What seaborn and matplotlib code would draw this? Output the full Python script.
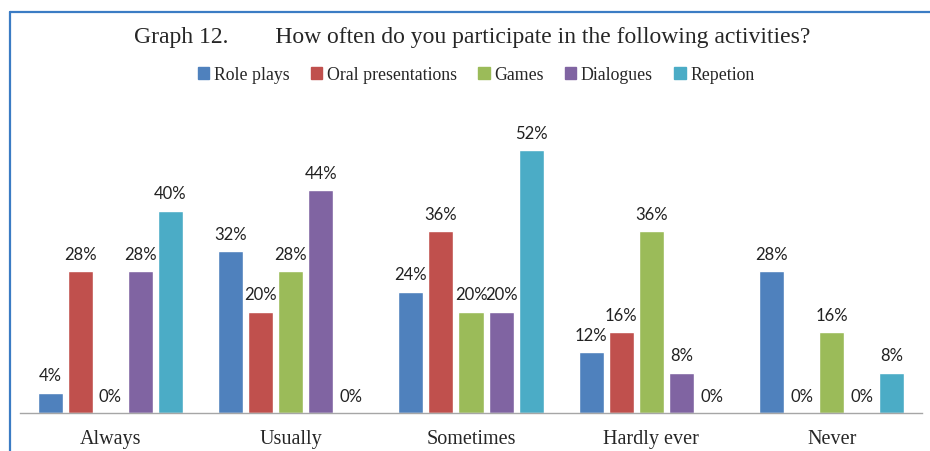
import pandas as pd
import seaborn as sns
import matplotlib.pyplot as plt
from matplotlib.lines import Line2D

# data
categories = ["Always", "Usually", "Sometimes", "Hardly ever", "Never"]
activities = ["Role plays", "Oral presentations", "Games", "Dialogues", "Repetion"]
role_plays = [4, 32, 24, 12, 28]
oral_presentations = [28, 20, 36, 16, 0]
games = [0, 28, 20, 36, 16]
dialogues = [28, 44, 20, 8, 0]
repetion = [40, 0, 52, 0, 8]

colors = ["#4F81BD", "#C0504D", "#9BBB59", "#8064A2", "#4BACC6"]

df = pd.DataFrame({
    "Frequency": categories,
    "Role plays": role_plays,
    "Oral presentations": oral_presentations,
    "Games": games,
    "Dialogues": dialogues,
    "Repetion": repetion,
})
df_long = df.melt(id_vars="Frequency", var_name="Activity", value_name="Percent")

sns.set_style("white")
serif = ["Liberation Serif", "DejaVu Serif"]
sans = ["Lato", "DejaVu Sans"]

fig = plt.figure(figsize=(9.3, 4.51), dpi=100)
ax = fig.add_axes([20 / 930, 38 / 451, 902 / 930, 303.6 / 451])

sns.barplot(data=df_long, x="Frequency", y="Percent", hue="Activity",
            order=categories, hue_order=activities, palette=colors,
            width=0.833, gap=0.167, saturation=1, ax=ax, legend=False)

# value labels
for container in ax.containers:
    ax.bar_label(container, labels=[f"{v:.0f}%" for v in container.datavalues],
                 padding=6, fontsize=12, family=sans, color="#222222")

ax.set_xlim(-0.5, 4.5)
ax.set_ylim(0, 60)
ax.set_yticks([])
ax.set_xlabel("")
ax.set_ylabel("")
for s in ["top", "right", "left"]:
    ax.spines[s].set_visible(False)
ax.spines["bottom"].set_color("#A6A6A6")
ax.spines["bottom"].set_linewidth(1.0)
ax.tick_params(axis="x", length=0, pad=12)
for lbl in ax.get_xticklabels():
    lbl.set_family(serif)
    lbl.set_fontsize(14.5)

# title and legend
fig.text(0.508, 1 - 37 / 451,
         "Graph 12.        How often do you participate in the following activities?",
         ha="center", va="center", fontsize=17, family=serif)
handles = [plt.Rectangle((0, 0), 1, 1, color=c) for c in colors]
fig.legend(handles, activities, loc="center", bbox_to_anchor=(0.512, 1 - 75 / 451),
           ncol=5, frameon=False, handlelength=0.65, handleheight=0.65,
           handletextpad=0.25, columnspacing=1.2, prop={"family": serif, "size": 12.8})

# blue frame on left and top
fig.add_artist(Line2D([9.5 / 930, 9.5 / 930], [0, 1 - 12 / 451], color="#3B7CC4", lw=1.6))
fig.add_artist(Line2D([9.5 / 930, 1], [1 - 12 / 451, 1 - 12 / 451], color="#3B7CC4", lw=1.6))

fig.savefig("out.png", dpi=100)
